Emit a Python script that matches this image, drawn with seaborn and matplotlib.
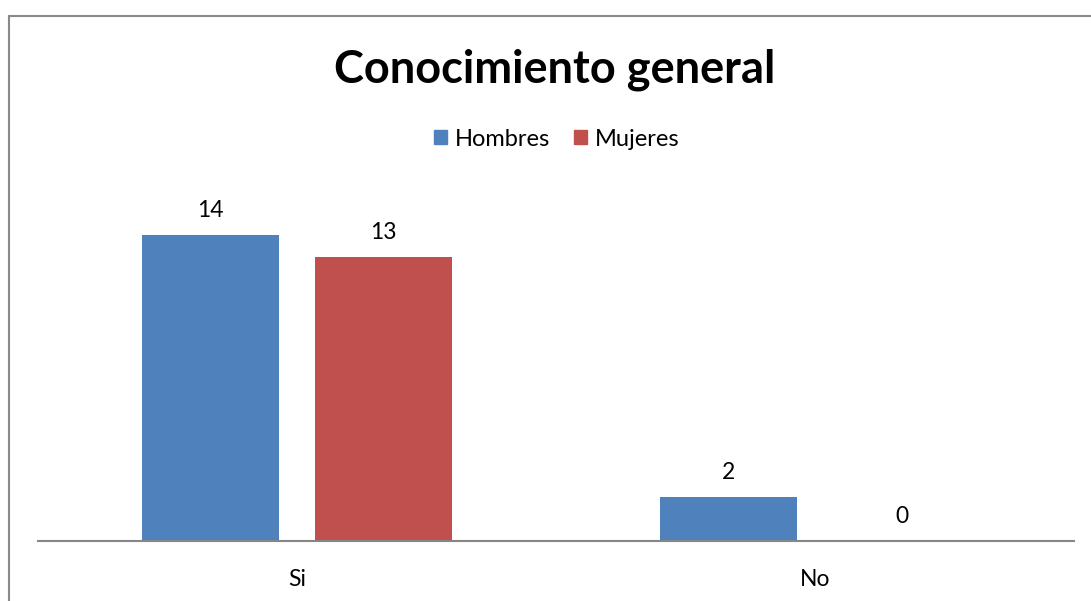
import pandas as pd
import matplotlib.pyplot as plt
import seaborn as sns
from matplotlib.patches import Rectangle

# datos de la grafica
categorias = ["Si", "No"]
hombres = [14, 2]
mujeres = [13, 0]
grupos = ["Hombres", "Mujeres"]
colores = ["#4F81BD", "#C0504D"]

df = pd.DataFrame({
    "respuesta": categorias * 2,
    "grupo": [grupos[0]] * len(categorias) + [grupos[1]] * len(categorias),
    "valor": hombres + mujeres,
})

sns.set_style("white")
plt.rcParams["font.family"] = ["Lato", "DejaVu Sans"]
plt.rcParams["text.color"] = "black"
plt.rcParams["xtick.color"] = "black"

W, H = 1091, 601
fig = plt.figure(figsize=(W / 100, H / 100), dpi=100)
ax = fig.add_axes([38 / W, 1 - 541 / H, (1074 - 38) / W, (541 - 191) / H])

sns.barplot(data=df, x="respuesta", y="valor", hue="grupo", order=categorias,
            hue_order=grupos, palette=colores, width=0.668, gap=0.204,
            saturation=1, legend=False, linewidth=0, ax=ax)

ax.set_ylim(0, 16)
ax.set_xlim(-0.5, 1.5)
for c in ax.containers:
    ax.bar_label(c, padding=10, fontsize=16.5, color="black")

ax.set_yticks([])
ax.set_xlabel("")
ax.set_ylabel("")
ax.tick_params(axis="x", length=0, pad=20, labelsize=16.5)
for s in ["top", "right", "left"]:
    ax.spines[s].set_visible(False)
ax.spines["bottom"].set_color("#868686")
ax.spines["bottom"].set_linewidth(1.5)

# leyenda manual
handles = [Rectangle((0, 0), 1, 1, color=c) for c in colores]
fig.legend(handles, grupos, loc="center", bbox_to_anchor=(557 / W, 1 - 139 / H),
           ncol=2, frameon=False, fontsize=17, handlelength=0.55, handleheight=0.55,
           handletextpad=0.35, columnspacing=1.0)

fig.text(555 / W, 1 - 70 / H, "Conocimiento general", ha="center", va="center",
         fontsize=32.5, fontweight="bold")

# borde del grafico
fig.patches.append(Rectangle((8.5 / W, -0.1), 1.2, 1 - 15.5 / H + 0.1, fill=False,
                             edgecolor="#898989", linewidth=1.5,
                             transform=fig.transFigure, figure=fig))

fig.savefig("out.png", dpi=100)
